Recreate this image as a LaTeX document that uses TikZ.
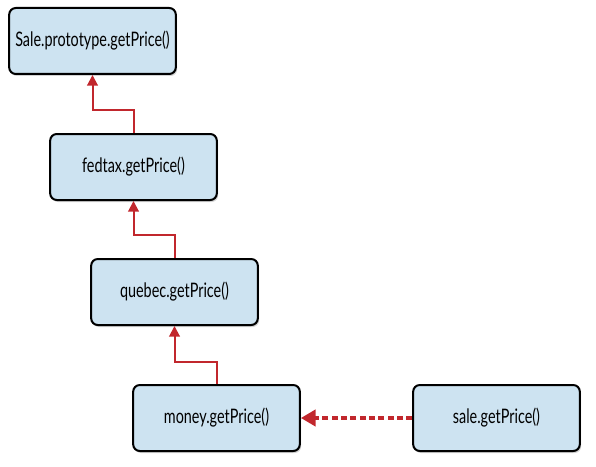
\documentclass[tikz,border=0pt]{standalone}
\usepackage{fontspec}
\setmainfont{Lato}[FakeStretch=0.72]
\usepackage{xcolor}
\usetikzlibrary{arrows.meta, shadows}
\definecolor{BOXBLUE}{HTML}{CDE3F1}
\definecolor{ARRED}{HTML}{C1272D}

\begin{document}
\begin{tikzpicture}[x=0.75pt, y=-0.75pt,
          box/.style={rectangle, draw=black, line width=1.5pt, fill=BOXBLUE,
                      rounded corners=5pt, minimum width=125pt, minimum height=49.5pt,
                      align=center, font=\fontsize{15}{17}\selectfont,
                      drop shadow={shadow xshift=1pt, shadow yshift=-1.5pt, opacity=0.35}},
          arr/.style={-{Triangle[length=8pt, width=8pt]}, line width=1.5pt, ARRED},
          dotarr/.style={-{Triangle[length=11pt, width=12pt]}, line width=3.2pt, ARRED,
                         dash pattern=on 4.5pt off 2.5pt}
        ]
          \useasboundingbox (0,0) rectangle (596,467);
          \node[box] (proto) at (92.5,41) {Sale.prototype.getPrice()};
          \node[box] (fedtax) at (133.5,167) {fedtax.getPrice()};
          \node[box] (quebec) at (174.5,292) {quebec.getPrice()};
          \node[box] (money) at (216.5,418) {money.getPrice()};
          \node[box] (sale) at (496.5,418) {sale.getPrice()};
          \draw[arr] (fedtax.north) -- ++(0,-23) -| (proto.south);
          \draw[arr] (quebec.north) -- ++(0,-23) -| (fedtax.south);
          \draw[arr] (money.north) -- ++(0,-22) -| (quebec.south);
          \draw[dotarr] (sale.west) -- (money.east);
        \end{tikzpicture}
\end{document}
